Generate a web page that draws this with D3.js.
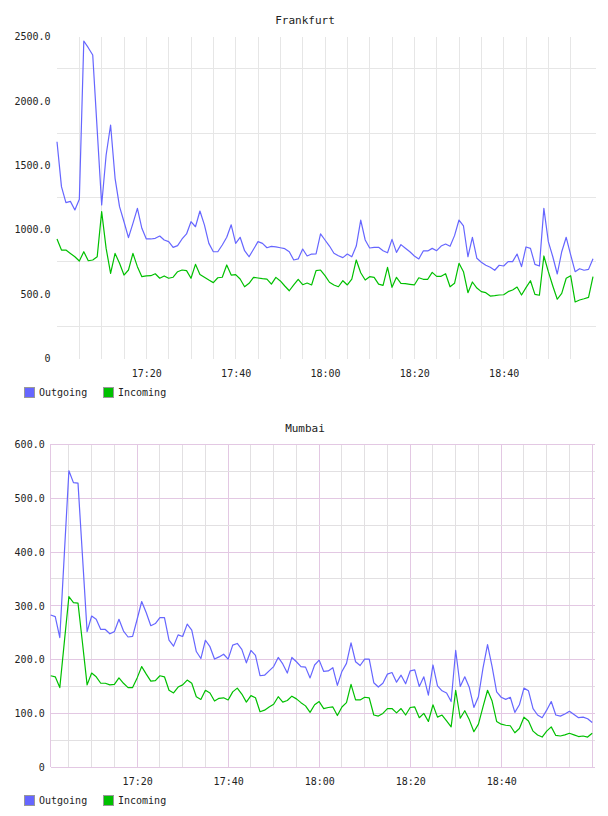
<!DOCTYPE html>
<html>
<head>
<meta charset="utf-8">
<script src="https://cdn.jsdelivr.net/npm/d3@7"></script>
<style>
body { margin: 0; background: #fff; }
svg text { font-family: "DejaVu Sans Mono", monospace; fill: #222; }
</style>
</head>
<body>
<script>
// Series values, one point per minute
const seriesNames = ["Outgoing", "Incoming"];
const seriesColors = ["#6666ff", "#00c000"];

const frankfurtOutgoing = [
    1683, 1334, 1210, 1220, 1153, 1236, 2465, 2413, 2356, 1774, 1192, 1580, 1813, 1399, 1179, 1062, 938, 1049, 1166, 1011,
    928, 928, 933, 951, 920, 907, 863, 876, 928, 967, 1062, 1023, 1145, 1037, 894, 829, 829, 881, 941, 1038,
    894, 941, 837, 790, 848, 907, 894, 860, 871, 866, 860, 853, 829, 765, 773, 850, 796, 811, 813, 967,
    920, 873, 817, 798, 783, 811, 790, 873, 1075, 920, 858, 863, 863, 837, 821, 925, 824, 884, 856,
    829, 796, 773, 835, 835, 855, 837, 873, 889, 871, 954, 1075, 1029, 790, 941, 778, 747, 724, 708, 685,
    724, 718, 752, 752, 811, 713, 866, 855, 731, 718, 1166, 907, 790, 656, 829, 941, 804, 674, 697, 685, 692, 775
];
const frankfurtIncoming = [
    928, 842, 842, 816, 790, 757, 829, 759, 765, 790, 1140, 855, 661, 816, 739, 648, 687, 816, 713, 635,
    641, 643, 658, 623, 641, 623, 631, 674, 687, 682, 623, 731, 653, 631, 609, 589, 627, 631, 726, 648,
    651, 617, 557, 584, 630, 625, 620, 617, 578, 630, 602, 563, 526, 571, 615, 573, 586, 571, 682, 687,
    643, 592, 571, 557, 604, 571, 617, 765, 666, 609, 635, 630, 578, 568, 708, 553, 630, 584, 581,
    576, 571, 627, 615, 615, 669, 638, 638, 658, 557, 584, 739, 674, 511, 594, 547, 519, 511, 485, 488,
    493, 495, 519, 532, 555, 493, 550, 604, 498, 491, 796, 674, 563, 460, 506, 623, 643, 439, 454, 464, 475, 635
];
const mumbaiOutgoing = [
    283, 280, 241, 397, 551, 529, 528, 390, 252, 281, 275, 256, 256, 248, 252, 275, 253, 242, 243, 275,
    308, 287, 263, 267, 278, 278, 236, 225, 246, 243, 266, 255, 215, 202, 236, 224, 201, 205, 210, 201, 227,
    230, 219, 194, 217, 208, 170, 171, 179, 187, 204, 192, 175, 204, 196, 187, 186, 166, 190, 199,
    178, 179, 185, 152, 178, 193, 231, 196, 189, 201, 201, 157, 149, 156, 173, 176, 158, 171, 155,
    179, 181, 150, 168, 134, 190, 151, 142, 138, 122, 217, 150, 168, 148, 111, 131, 184, 228, 187, 140,
    130, 126, 130, 102, 116, 147, 142, 109, 97, 92, 106, 122, 97, 95, 99, 104, 98, 92, 93, 90, 83
];
const mumbaiIncoming = [
    170, 168, 148, 233, 317, 306, 305, 230, 153, 175, 168, 156, 156, 153, 154, 166, 156, 148, 148, 166,
    187, 173, 160, 161, 170, 168, 143, 138, 149, 153, 162, 156, 131, 126, 143, 138, 123, 128, 129, 125, 140,
    147, 136, 121, 133, 129, 103, 106, 112, 117, 131, 121, 124, 132, 127, 120, 114, 102, 116, 122,
    109, 111, 112, 96, 112, 120, 154, 125, 125, 130, 129, 97, 95, 100, 109, 109, 101, 109, 97,
    111, 112, 92, 100, 85, 116, 93, 97, 86, 75, 143, 91, 105, 88, 66, 80, 112, 143, 123, 85,
    80, 78, 77, 64, 72, 93, 86, 67, 60, 56, 67, 75, 59, 58, 60, 63, 60, 57, 58, 56, 63
];

// Tick labels
const xTickLabels = ["17:20", "17:40", "18:00", "18:20", "18:40"];
const frankfurtYTicks = [0, 500, 1000, 1500, 2000, 2500];
const mumbaiYTicks = [0, 100, 200, 300, 400, 500, 600];

const day = (h, m) => new Date(2020, 0, 1, h, m);
const xTickTimes = xTickLabels.map(s => day(+s.slice(0, 2), +s.slice(3)));

let svg = d3.select("body").append("svg")
    .attr("width", 608)
    .attr("height", 816);

function drawChart(o) {
    let g = svg.append("g");

    let xScale = d3.scaleTime()
        .domain([day(17, 0), day(19, 0)])
        .range(o.xRange);
    let yScale = d3.scaleLinear()
        .domain([0, o.yMax])
        .range([o.bottom, o.top]);

    // grid
    let fiveMin = d3.timeMinute.every(5).range(day(17, 5), day(19, 0));
    fiveMin.forEach(t => {
        let major = t.getMinutes() % 20 === 0;
        g.append("line")
            .attr("x1", xScale(t)).attr("x2", xScale(t))
            .attr("y1", o.top).attr("y2", o.bottom)
            .attr("stroke", major ? o.majorColor : o.minorColor)
            .attr("stroke-width", 1);
    });
    d3.range(o.yStep / 2, o.yMax, o.yStep).forEach(v => {
        g.append("line")
            .attr("x1", o.left).attr("x2", o.right)
            .attr("y1", yScale(v)).attr("y2", yScale(v))
            .attr("stroke", o.minorColor);
    });
    if (o.majorH) {
        o.yTicks.forEach(v => {
            g.append("line")
                .attr("x1", o.left).attr("x2", o.right)
                .attr("y1", yScale(v)).attr("y2", yScale(v))
                .attr("stroke", o.majorColor);
        });
        [o.left, xScale(day(19, 0))].forEach(x => {
            g.append("line")
                .attr("x1", x).attr("x2", x)
                .attr("y1", o.top).attr("y2", o.bottom)
                .attr("stroke", o.majorColor);
        });
    }
    g.selectAll("line").attr("shape-rendering", "crispEdges");

    // axes
    let xAxis = g.append("g")
        .attr("transform", `translate(0,${o.bottom})`)
        .call(d3.axisBottom(xScale)
            .tickValues(xTickTimes)
            .tickFormat((d, i) => xTickLabels[i])
            .tickSize(0)
            .tickPadding(o.xPad));
    let yAxis = g.append("g")
        .attr("transform", `translate(${o.left},0)`)
        .call(d3.axisLeft(yScale)
            .tickValues(o.yTicks)
            .tickFormat(d => d === 0 ? "0" : d.toFixed(1))
            .tickSize(0)
            .tickPadding(o.yPad));
    [xAxis, yAxis].forEach(a => {
        a.select(".domain").remove();
        a.attr("font-family", null).attr("font-size", null);
        a.selectAll("text").style("font-size", "10px").attr("fill", "#222");
    });

    // lines
    let line = d3.line()
        .x(d => xScale(d.t))
        .y(d => yScale(d.v));
    o.series.forEach((values, k) => {
        let data = values.map((v, i) => ({ t: d3.timeMinute.offset(o.start, i), v: v }));
        g.append("path")
            .datum(data)
            .attr("fill", "none")
            .attr("stroke", seriesColors[k])
            .attr("stroke-width", 1.2)
            .attr("stroke-linejoin", "round")
            .attr("d", line);
    });

    // title
    g.append("text")
        .attr("x", 305).attr("y", o.titleY)
        .attr("text-anchor", "middle")
        .style("font-size", "11px")
        .text(o.title);

    // legend
    let legendX = [24, 103];
    seriesNames.forEach((name, k) => {
        g.append("rect")
            .attr("x", legendX[k] + 0.5).attr("y", o.legendY + 0.5)
            .attr("width", 10).attr("height", 10)
            .attr("fill", seriesColors[k])
            .attr("stroke", "#999");
        g.append("text")
            .attr("x", legendX[k] + 15).attr("y", o.legendY + 9)
            .style("font-size", "10px")
            .text(name);
    });
}

drawChart({
    title: "Frankfurt", titleY: 24,
    start: day(17, 0),
    series: [frankfurtOutgoing, frankfurtIncoming],
    xRange: [57, 593], left: 57, right: 596,
    top: 36.5, bottom: 358.5,
    yMax: 2500, yStep: 500, yTicks: frankfurtYTicks,
    minorColor: "#e6e6e6", majorColor: "#e6e6e6", majorH: false,
    xPad: 11.5, yPad: 6.5,
    legendY: 387
});

drawChart({
    title: "Mumbai", titleY: 432,
    start: day(17, 1),
    series: [mumbaiOutgoing, mumbaiIncoming],
    xRange: [46.15, 592.2], left: 50.7, right: 595,
    top: 444.4, bottom: 767.2,
    yMax: 600, yStep: 100, yTicks: mumbaiYTicks,
    minorColor: "#e2e0e2", majorColor: "#e3c8e3", majorH: true,
    xPad: 10.7, yPad: 6,
    legendY: 795
});
</script>
</body>
</html>
